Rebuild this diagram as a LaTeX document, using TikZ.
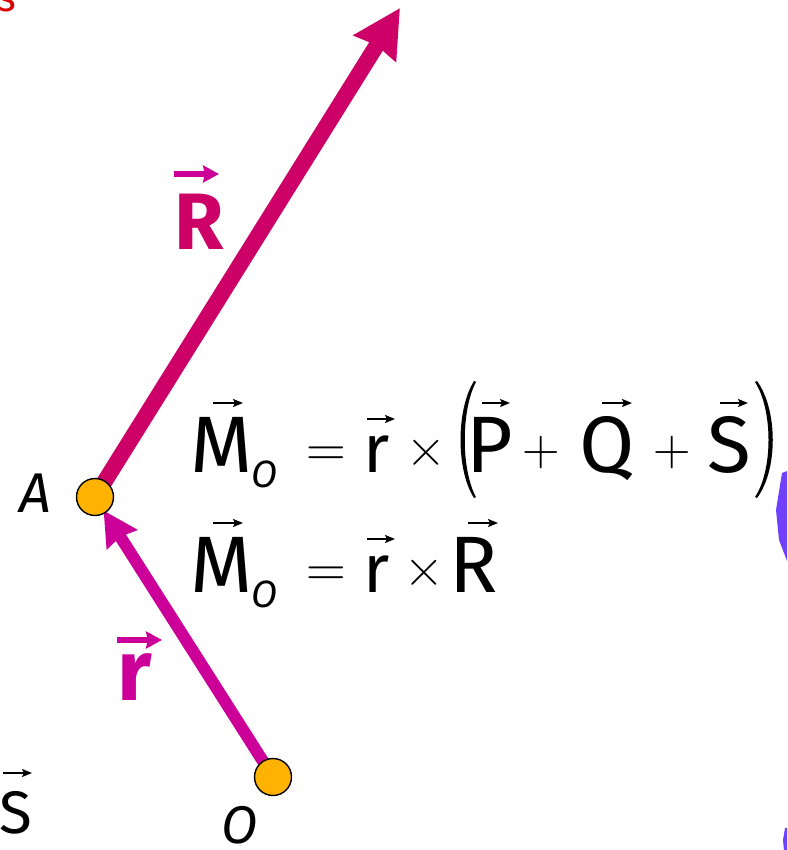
\documentclass[tikz,border=0pt]{standalone}
\usepackage{fontspec}
\usetikzlibrary{arrows.meta,backgrounds}
\newfontfamily\fira{Fira Sans}
\definecolor{crim}{HTML}{CC0066}
\definecolor{mag}{HTML}{CC0099}
\definecolor{orng}{HTML}{FFB300}
\definecolor{purp}{HTML}{7040FF}
\definecolor{redt}{HTML}{DD0000}
\tikzset{
  dot/.style={circle, draw=black, line width=1.4pt, fill=orng, minimum size=37pt, inner sep=0pt},
  glyph/.style={anchor=base, inner sep=0pt, outer sep=0pt},
  big/.style={glyph, font=\fira\fontsize{80}{90}\selectfont},
  smallr/.style={glyph, font=\fira\fontsize{68}{80}\selectfont},
  sub/.style={glyph, font=\fira\itshape\fontsize{38}{44}\selectfont},
  op/.style={glyph, font=\fontsize{55}{60}\selectfont},
  opsm/.style={glyph, font=\fontsize{52}{60}\selectfont},
  vecar/.style={line width=1.8pt, -{Stealth[length=10pt,width=8pt,inset=2pt]}},
  lblar/.style={line width=6pt, mag, -{Stealth[length=16pt,width=17pt,inset=2pt]}},
  bigarrow/.style={line width=16pt, crim, -{Stealth[length=47pt,width=48pt,inset=3pt]}},
  rarrow/.style={line width=12pt, mag, -{Stealth[length=34pt,width=35pt,inset=3pt]}},
}
\begin{document}
\begin{tikzpicture}[x=1pt,y=-1pt]
\clip (0,0) rectangle (787,850);
\useasboundingbox (0,0) rectangle (787,850);
% top red text fragment
\node[glyph, anchor=base west, text=redt, font=\fira\fontsize{40}{44}\selectfont] (topS) at (-2,12) {s};
% purple fragments at right edge
\fill[purp] (800,466) -- (782,473) -- (776,510) -- (779,540) -- (787,561) -- (800,566) -- cycle;
\fill[purp] (800,826) -- (785,828) -- (783,840) -- (784,851) -- (800,851) -- cycle;
% points
\node[dot] (A) at (95,497) {};
\node[dot] (O) at (273,777) {};
\coordinate (Rtip) at (400,8);
\begin{scope}[on background layer]
  \draw[bigarrow] (A.center) -- (Rtip);
  \draw[rarrow, shorten >=16pt] (O.center) -- (A.center);
\end{scope}
% point labels
\node[glyph, font=\fira\itshape\fontsize{56}{60}\selectfont] (Alab) at (35,512) {A};
\node[glyph, font=\fira\itshape\fontsize{53}{60}\selectfont] (Olab) at (240,843) {O};
% vector labels
\node[glyph, text=crim, font=\fira\bfseries\fontsize{80}{90}\selectfont] (Rlab) at (199,249) {R};
\draw[lblar] (174,174) -- (219,174);
\node[glyph, text=mag, font=\fira\bfseries\fontsize{86}{90}\selectfont] (rlab) at (135,700) {r};
\draw[lblar] (117,640) -- (162,640);
% S bottom-left
\node[glyph, font=\fira\fontsize{60}{70}\selectfont] (Sleft) at (16,833) {S};
\draw[vecar] (3,773) -- (32,773);
% equation line 1
\node[big] (M1) at (222,472) {M};
\node[sub] (O1) at (265,487) {O};
\node[op] (eq1) at (326,466) {=};
\node[smallr] (r1) at (377,472) {r};
\node[op] (x1) at (426,466) {×};
\fill (474,381) .. controls (456,410) and (456,470) .. (474,498) -- (476,497) .. controls (461,470) and (461,410) .. (476,382) -- cycle;
\node[big] (P1) at (490,472) {P};
\node[opsm] (p1) at (541,465) {+};
\node[big] (Q1) at (607,472) {Q};
\node[opsm] (p2) at (672,465) {+};
\node[big] (S1) at (729,472) {S};
\fill (757,381) .. controls (778,410) and (778,470) .. (757,498) -- (755,497) .. controls (773,470) and (773,410) .. (755,382) -- cycle;
\draw[vecar] (213,403) -- (243,403);
\draw[vecar] (367,419) -- (395,419);
\draw[vecar] (482,403) -- (510,403);
\draw[vecar] (602,403) -- (632,403);
\draw[vecar] (720,403) -- (748,403);
% equation line 2
\node[big] (M2) at (222,592) {M};
\node[sub] (O2) at (265,607) {O};
\node[op] (eq2) at (326,586) {=};
\node[smallr] (r2) at (377,592) {r};
\node[op] (x2) at (424,586) {×};
\node[big] (R2) at (474,592) {R};
\draw[vecar] (213,523) -- (243,523);
\draw[vecar] (367,539) -- (395,539);
\draw[vecar] (468,523) -- (498,523);
\end{tikzpicture}
\end{document}
